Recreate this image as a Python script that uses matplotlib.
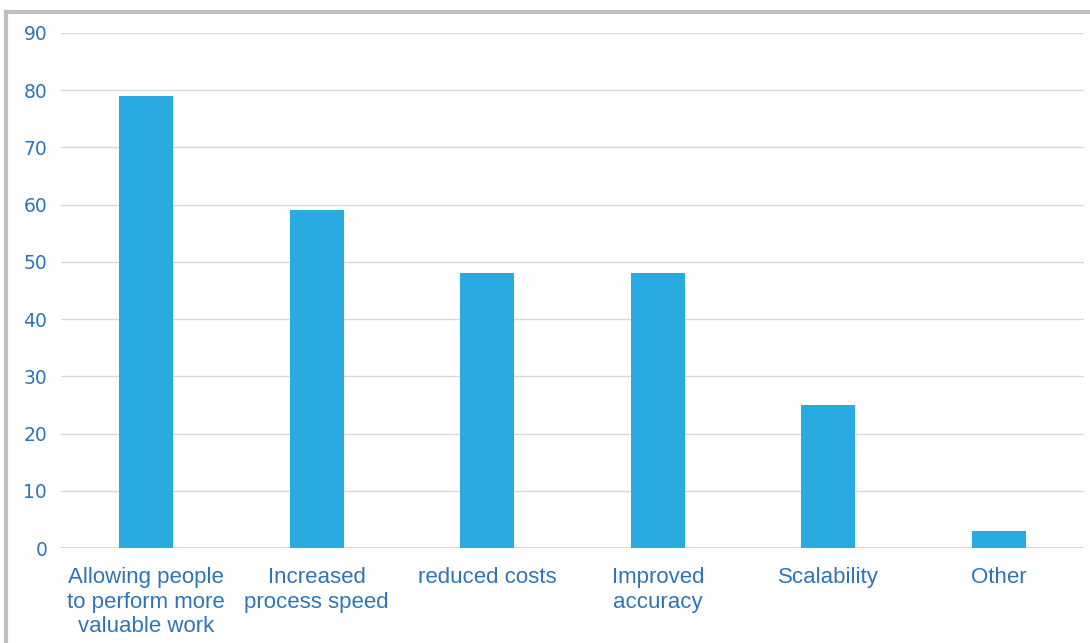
import matplotlib.pyplot as plt
from matplotlib.lines import Line2D

categories = ["Allowing people\nto perform more\nvaluable work", "Increased\nprocess speed",
              "reduced costs", "Improved\naccuracy", "Scalability", "Other"]
values = [79, 59, 48, 48, 25, 3]
yticks = [0, 10, 20, 30, 40, 50, 60, 70, 80, 90]

bar_color = '#29ABE2'
text_color = '#2E75B6'

fig = plt.figure(figsize=(10.9, 6.43), dpi=100)
ax = fig.add_axes([0.056, 0.1477, 0.9385, 0.801])

x = range(len(categories))
ax.bar(x, values, width=0.317, color=bar_color, zorder=3)

ax.set_xlim(-0.5, len(categories) - 0.5)
ax.set_ylim(0, 90)
ax.set_yticks(yticks)
ax.set_xticks(list(x))
ax.set_xticklabels(categories, fontsize=16, color=text_color,
                   family='Liberation Sans', linespacing=1.2, va='top')
ax.tick_params(axis='y', labelsize=13.5, labelcolor=text_color, length=0, pad=10)
ax.tick_params(axis='x', length=0, pad=14)
ax.grid(axis='y', color='#D9D9D9', linewidth=1, zorder=0)
ax.axhline(0, color='#D0D0D0', linewidth=1.2, zorder=1)
for s in ax.spines.values():
    s.set_visible(False)

# outer frame (top and left visible)
fig.add_artist(Line2D([6 / 1090, 6 / 1090], [0, 1 - 12 / 643], transform=fig.transFigure,
                      color='#BFBFBF', linewidth=3))
fig.add_artist(Line2D([6 / 1090, 1], [1 - 12 / 643, 1 - 12 / 643], transform=fig.transFigure,
                      color='#BFBFBF', linewidth=3))

plt.savefig("out.png", dpi=100)
